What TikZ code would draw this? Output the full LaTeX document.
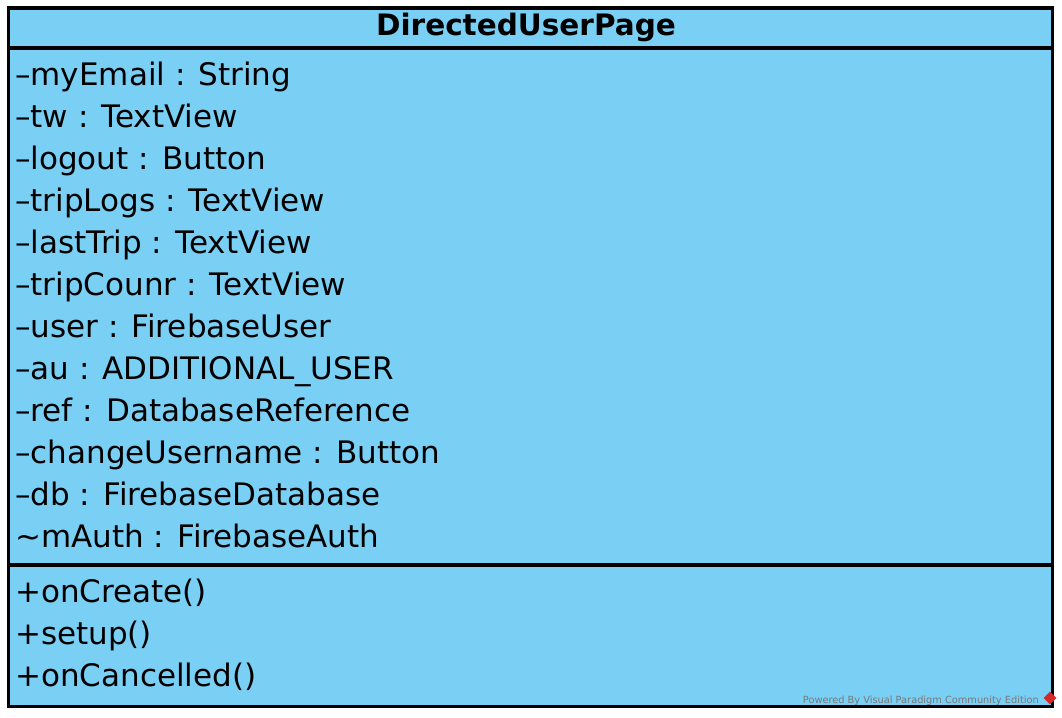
\documentclass[tikz,border=0pt]{standalone}
\usepackage{fontspec}
\setmainfont{DejaVu Sans}
\usepackage{xcolor}
\usetikzlibrary{shapes.geometric}

\definecolor{umlblue}{RGB}{122,207,244}
\definecolor{vpgray}{RGB}{120,120,120}
\definecolor{vpred}{RGB}{215,40,40}

\tikzset{
	classbox/.style={draw=black, line width=3.5pt, fill=umlblue, inner sep=0pt, anchor=north west},
	classname/.style={anchor=base, inner sep=0pt, font=\fontsize{29.5}{34}\selectfont\bfseries},
	member/.style={anchor=base west, inner sep=0pt, font=\fontsize{31}{36}\selectfont},
	sepline/.style={draw=black, line width=3.5pt}
}

\begin{document}
\begin{tikzpicture}[x=1pt,y=-1pt]
		\useasboundingbox (0,0) rectangle (1062,717);

		% class box
		\node[classbox, minimum width=1044pt, minimum height=698pt] (cls) at (6.5,6.5) {};
		\coordinate (sepA) at (6.5,48);
		\coordinate (sepB) at (6.5,565);
		\draw[sepline] (sepA) -- (sepA -| cls.east);
		\draw[sepline] (sepB) -- (sepB -| cls.east);

		\node[classname] (title) at (526,36) {DirectedUserPage};

		% attributes
		\node[member] (myEmail) at (15,85) {\textendash myEmail : String};
		\node[member] (tw) at (15,127) {\textendash tw : TextView};
		\node[member] (logout) at (15,169) {\textendash logout : Button};
		\node[member] (tripLogs) at (15,211) {\textendash tripLogs : TextView};
		\node[member] (lastTrip) at (15,253) {\textendash lastTrip : TextView};
		\node[member] (tripCounr) at (15,295) {\textendash tripCounr : TextView};
		\node[member] (user) at (15,337) {\textendash user : FirebaseUser};
		\node[member] (au) at (15,379) {\textendash au : ADDITIONAL\_USER};
		\node[member] (ref) at (15,421) {\textendash ref : DatabaseReference};
		\node[member] (changeUsername) at (15,463) {\textendash changeUsername : Button};
		\node[member] (db) at (15,505) {\textendash db : FirebaseDatabase};
		\node[member] (mAuth) at (15,547) {\textasciitilde mAuth : FirebaseAuth};

		% operations
		\node[member] (onCreate) at (15,602) {+onCreate()};
		\node[member] (setup) at (15,644) {+setup()};
		\node[member] (onCancelled) at (15,686) {+onCancelled()};

		% watermark
		\node[anchor=base east, inner sep=0pt, text=vpgray, font=\fontsize{9.8}{11}\selectfont] (vpnote) at (1039,703) {Powered By Visual Paradigm Community Edition};
		\node[diamond, fill=vpred, minimum size=13pt, inner sep=0pt] (vplogo) at (1050,698) {};
	\end{tikzpicture}
\end{document}
